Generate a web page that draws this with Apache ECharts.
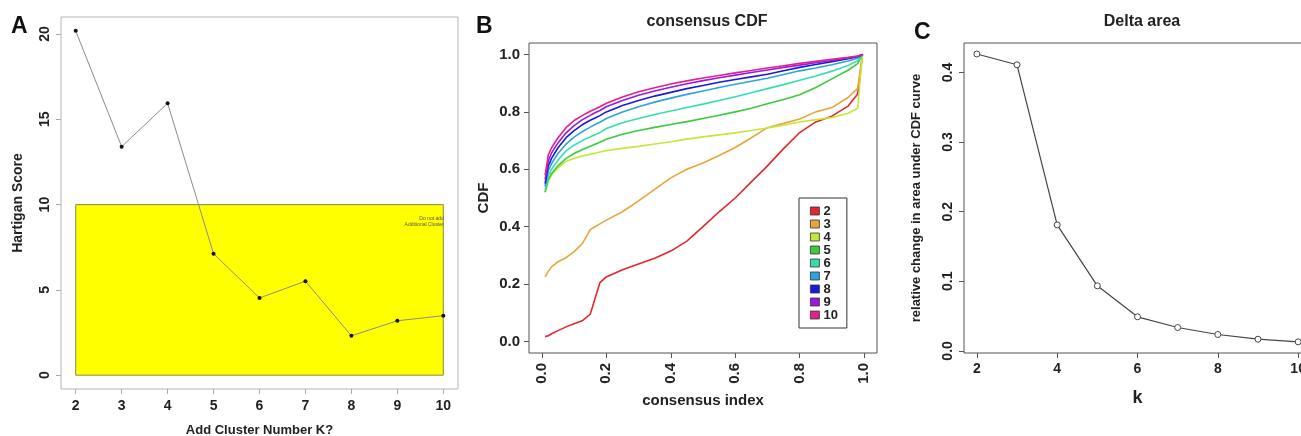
<!DOCTYPE html>
<html>
<head>
<meta charset="utf-8">
<script src="https://cdn.jsdelivr.net/npm/echarts@6/dist/echarts.min.js"></script>
<style>
  html, body { margin: 0; padding: 0; background: #fff; }
  #chart-wrap { width: 1301px; height: 436px; }
</style>
</head>
<body>
<div id="chart-wrap"></div>
<script>
// A: Hartigan score per cluster number
const hartiganK = [2, 3, 4, 5, 6, 7, 8, 9, 10]
const hartiganScore = [20.19, 13.4, 15.94, 7.12, 4.53, 5.51, 2.31, 3.19, 3.49]
const hartiganXTicks = [2, 3, 4, 5, 6, 7, 8, 9, 10]
const hartiganYTicks = [0, 5, 10, 15, 20]

// B: consensus CDF curves, k = 2..10
const cdfIndex = [0.01, 0.02, 0.03, 0.05, 0.075, 0.1, 0.125, 0.15, 0.165, 0.18, 0.2, 0.25, 0.3, 0.35, 0.4, 0.45, 0.5, 0.55, 0.6, 0.65, 0.7, 0.75, 0.8, 0.85, 0.9, 0.95, 0.98, 0.995]
const cdfK2 = [0.017, 0.02, 0.027, 0.038, 0.051, 0.062, 0.072, 0.095, 0.15, 0.205, 0.225, 0.25, 0.27, 0.29, 0.315, 0.35, 0.4, 0.452, 0.5, 0.556, 0.612, 0.672, 0.728, 0.765, 0.785, 0.82, 0.862, 1.0]
const cdfK3 = [0.225, 0.245, 0.26, 0.278, 0.292, 0.313, 0.34, 0.39, 0.4, 0.41, 0.423, 0.452, 0.49, 0.53, 0.57, 0.6, 0.622, 0.648, 0.676, 0.71, 0.745, 0.76, 0.775, 0.8, 0.815, 0.85, 0.882, 1.0]
const cdfK4 = [0.52, 0.56, 0.58, 0.605, 0.628, 0.638, 0.646, 0.652, 0.656, 0.66, 0.665, 0.673, 0.68, 0.688, 0.696, 0.705, 0.713, 0.72, 0.727, 0.735, 0.744, 0.754, 0.765, 0.773, 0.78, 0.795, 0.812, 1.0]
const cdfK5 = [0.52, 0.565, 0.585, 0.612, 0.638, 0.655, 0.668, 0.68, 0.687, 0.694, 0.705, 0.722, 0.735, 0.746, 0.756, 0.766, 0.777, 0.788, 0.8, 0.813, 0.828, 0.843, 0.86, 0.885, 0.915, 0.945, 0.968, 1.0]
const cdfK6 = [0.53, 0.578, 0.6, 0.632, 0.664, 0.684, 0.7, 0.713, 0.72, 0.728, 0.742, 0.762, 0.777, 0.791, 0.803, 0.815, 0.827, 0.84, 0.853, 0.867, 0.881, 0.895, 0.91, 0.925, 0.942, 0.962, 0.978, 1.0]
const cdfK7 = [0.54, 0.595, 0.62, 0.655, 0.688, 0.712, 0.731, 0.747, 0.756, 0.764, 0.777, 0.8, 0.818, 0.834, 0.848, 0.861, 0.873, 0.885, 0.896, 0.907, 0.917, 0.93, 0.943, 0.953, 0.964, 0.977, 0.987, 1.0]
const cdfK8 = [0.55, 0.612, 0.638, 0.675, 0.71, 0.735, 0.755, 0.771, 0.779, 0.787, 0.8, 0.822, 0.84, 0.855, 0.868, 0.881, 0.892, 0.903, 0.913, 0.922, 0.931, 0.943, 0.955, 0.965, 0.975, 0.985, 0.992, 1.0]
const cdfK9 = [0.565, 0.63, 0.657, 0.692, 0.727, 0.752, 0.772, 0.788, 0.797, 0.805, 0.818, 0.84, 0.858, 0.873, 0.886, 0.898, 0.909, 0.919, 0.928, 0.937, 0.946, 0.955, 0.963, 0.971, 0.979, 0.988, 0.994, 1.0]
const cdfK10 = [0.58, 0.65, 0.675, 0.71, 0.745, 0.77, 0.787, 0.802, 0.81, 0.818, 0.83, 0.852, 0.87, 0.884, 0.897, 0.908, 0.918, 0.927, 0.936, 0.944, 0.953, 0.961, 0.969, 0.976, 0.983, 0.99, 0.995, 1.0]
const clusterNames = ['2', '3', '4', '5', '6', '7', '8', '9', '10']
const cdfTicks = [0, 0.2, 0.4, 0.6, 0.8, 1.0]

// C: delta area
const deltaK = [2, 3, 4, 5, 6, 7, 8, 9, 10]
const deltaArea = [0.4265, 0.411, 0.181, 0.0935, 0.049, 0.0336, 0.0236, 0.0168, 0.013]
const deltaXTicks = [2, 4, 6, 8, 10]
const deltaYTicks = [0, 0.1, 0.2, 0.3, 0.4]

const cdfColors = ['#E8242C', '#EAA43A', '#C4E838', '#3CCB3C', '#36DEAF', '#2EA4DC', '#1A1ADC', '#9A1ADF', '#E2208E']
const FONT = 'Liberation Sans, Arial, sans-serif'
const TXT = '#222'

function pairs (xs, ys) {
  return xs.map((x, i) => [x, ys[i]])
}

function valueAxis (gridIndex, min, max, ticks, opts) {
  const o = opts || {}
  return {
    type: 'value',
    gridIndex: gridIndex,
    min: min,
    max: max,
    splitLine: { show: false },
    axisLine: { show: false, onZero: false },
    axisTick: { show: true, customValues: ticks, length: 5, lineStyle: { color: o.tickColor || '#555' } },
    axisLabel: {
      customValues: ticks,
      rotate: o.rotate || 0,
      margin: o.margin || 8,
      color: TXT,
      fontFamily: FONT,
      fontWeight: 'bold',
      fontSize: o.fontSize || 14,
      formatter: o.formatter
    },
    name: o.name,
    nameLocation: 'middle',
    nameGap: o.nameGap,
    nameTextStyle: { color: TXT, fontFamily: FONT, fontWeight: 'bold', fontSize: o.nameSize || 14 }
  }
}

const cdfSeries = [cdfK2, cdfK3, cdfK4, cdfK5, cdfK6, cdfK7, cdfK8, cdfK9, cdfK10].map((vals, i) => ({
  name: clusterNames[i],
  type: 'line',
  xAxisIndex: 1,
  yAxisIndex: 1,
  showSymbol: false,
  data: pairs(cdfIndex, vals),
  lineStyle: { color: cdfColors[i], width: 1.6 },
  itemStyle: { color: cdfColors[i] },
  emphasis: { disabled: true }
}))

const mychart = echarts.init(document.querySelector('#chart-wrap'))
const fix1 = v => v.toFixed(1)

mychart.setOption({
  animation: false,
  backgroundColor: '#fff',
  title: [
    { text: 'consensus CDF', left: 702, top: 9, textAlign: 'center', textStyle: { fontFamily: FONT, fontWeight: 'bold', fontSize: 16, color: TXT } },
    { text: 'Delta area', left: 1137, top: 9, textAlign: 'center', textStyle: { fontFamily: FONT, fontWeight: 'bold', fontSize: 16, color: TXT } }
  ],
  graphic: [
    { type: 'text', left: 11, top: 15, style: { text: 'A', font: 'bold 23px ' + FONT, fill: '#111' } },
    { type: 'text', left: 476, top: 15, style: { text: 'B', font: 'bold 23px ' + FONT, fill: '#111' } },
    { type: 'text', left: 914, top: 21, style: { text: 'C', font: 'bold 23px ' + FONT, fill: '#111' } }
  ],
  legend: {
    data: clusterNames,
    orient: 'vertical',
    left: 799,
    top: 198,
    padding: [6.5, 9, 6.5, 11],
    itemWidth: 9,
    itemHeight: 8,
    itemGap: 0,
    icon: 'rect',
    borderColor: '#333',
    borderWidth: 1,
    itemStyle: { borderColor: '#333', borderWidth: 0.8 },
    textStyle: { fontFamily: FONT, fontWeight: 'bold', fontSize: 13, lineHeight: 12.8, color: TXT, padding: [0, 0, 0, -1] }
  },
  grid: [
    { left: 61, top: 17, width: 397, height: 372, show: true, borderColor: '#b5b5b5', borderWidth: 1, outerBoundsMode: 'none' },
    { left: 529, top: 43, width: 348, height: 310, show: true, borderColor: '#555', borderWidth: 1, outerBoundsMode: 'none' },
    { left: 964, top: 43, width: 347, height: 310, show: true, borderColor: '#555', borderWidth: 1, outerBoundsMode: 'none' }
  ],
  xAxis: [
    valueAxis(0, 1.68, 10.32, hartiganXTicks, { tickColor: '#aaa', margin: 10, fontSize: 14, name: 'Add Cluster Number K?', nameGap: 35, nameSize: 13 }),
    valueAxis(1, -0.04, 1.04, cdfTicks, { rotate: 90, margin: 10, fontSize: 15, formatter: fix1, name: 'consensus index', nameGap: 40, nameSize: 15 }),
    valueAxis(2, 1.68, 10.32, deltaXTicks, { margin: 9, fontSize: 14, name: 'k', nameGap: 36, nameSize: 18 })
  ],
  yAxis: [
    valueAxis(0, -0.81, 21.0, hartiganYTicks, { tickColor: '#aaa', rotate: 90, margin: 9, fontSize: 14, name: 'Hartigan Score', nameGap: 36, nameSize: 14 }),
    valueAxis(1, -0.04, 1.04, cdfTicks, { margin: 9, fontSize: 15, formatter: fix1, name: 'CDF', nameGap: 38, nameSize: 15 }),
    valueAxis(2, -0.003, 0.4423, deltaYTicks, { rotate: 90, margin: 9, fontSize: 14, formatter: fix1, name: 'relative change in area under CDF curve', nameGap: 41, nameSize: 13 })
  ],
  series: [
    {
      type: 'line',
      xAxisIndex: 0,
      yAxisIndex: 0,
      data: pairs(hartiganK, hartiganScore),
      symbol: 'circle',
      symbolSize: 4,
      lineStyle: { color: '#8c8c8c', width: 1 },
      itemStyle: { color: '#111' },
      emphasis: { disabled: true },
      markArea: {
        silent: true,
        itemStyle: { color: '#ffff00', borderColor: '#8a8a40', borderWidth: 1 },
        label: {
          show: true,
          position: 'insideTopRight',
          distance: 0,
          padding: [12, 0, 0, 0],
          align: 'right',
          fontSize: 5,
          lineHeight: 6,
          color: '#555',
          fontFamily: FONT,
          formatter: 'Do not add\nAdditional Cluster'
        },
        data: [[{ coord: [2, 0] }, { coord: [10, 10] }]]
      }
    },
    ...cdfSeries,
    {
      type: 'line',
      xAxisIndex: 2,
      yAxisIndex: 2,
      data: pairs(deltaK, deltaArea),
      symbol: 'circle',
      symbolSize: 6,
      lineStyle: { color: '#444', width: 1.2 },
      itemStyle: { color: '#fff', borderColor: '#444', borderWidth: 1 },
      emphasis: { disabled: true }
    }
  ]
})

window.addEventListener('resize', function () {
  mychart.resize()
})
</script>
</body>
</html>
